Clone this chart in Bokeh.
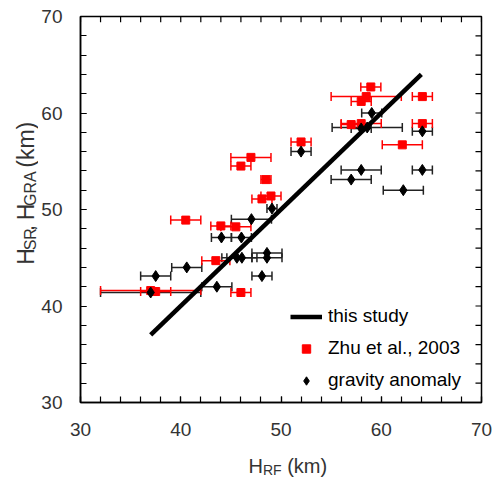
import math
from bokeh.plotting import figure
from bokeh.layouts import row, column
from bokeh.models import (Whisker, TeeHead, ColumnDataSource, Legend, LegendItem,
                          FixedTicker, Range1d)
from bokeh.core.properties import value
from bokeh.embed import file_html
from bokeh.resources import INLINE

# ---- data ----
# Zhu et al., 2003 (red squares): H_RF, H_SR, H_RF error
zhu_x = [58.96, 58.5, 58.0, 64.1, 64.1, 57.0, 58.0, 62.1, 52.0, 47.0, 46.0, 48.5, 48.1, 49.0,
         40.5, 44.0, 45.5, 43.5, 46.0, 37.0, 37.5]
zhu_y = [62.7, 61.7, 61.2, 61.7, 58.9, 58.8, 58.9, 56.7, 57.0, 55.4, 54.5, 53.1, 51.1, 51.4,
         48.9, 48.3, 48.2, 44.7, 41.4, 41.6, 41.5]
zhu_err = [1.0, 3.5, 1.0, 1.0, 1.0, 1.0, 2.0, 2.0, 1.0, 2.0, 1.0, 0.5, 1.0, 1.0,
           1.5, 1.0, 1.5, 1.4, 1.0, 5.0, 1.5]

# gravity anomaly (black diamonds): H_RF, H_GRA, H_RF error
gra_x = [59.05, 58.6, 58.0, 64.1, 52.0, 58.0, 64.1, 57.0, 62.2, 49.1, 47.05, 44.06, 46.05,
         48.6, 48.6, 45.6, 46.1, 48.1, 40.6, 37.5, 43.6, 37.0]
gra_y = [60.0, 58.5, 58.4, 58.1, 56.0, 54.1, 54.1, 53.1, 52.0, 50.1, 49.0, 47.1, 47.1,
         45.5, 45.0, 45.0, 45.0, 43.1, 44.0, 43.1, 42.0, 41.4]
gra_err = [1.0, 3.5, 1.0, 1.0, 1.0, 2.0, 1.0, 2.0, 2.0, 0.5, 2.0, 1.0, 1.0,
           1.5, 1.5, 1.5, 1.5, 1.0, 1.5, 1.5, 1.5, 5.0]

# this study: fitted line
fit_x = [37.0, 64.0]
fit_y = [37.0, 64.0]

x_ticks = [30, 40, 50, 60, 70]
y_ticks = [30, 40, 50, 60, 70]
minor_ticks = list(range(30, 71, 2))

FONT = "Liberation Sans"
TXT = "#333333"
RED = "#ff0000"
BLK = "#000000"

W, H = 493, 477
WL = 38          # width of the strip holding the y title
HM = 448         # height of the main figure
HX = H - HM      # height of the strip holding the x title

p = figure(width=W - WL, height=HM, output_backend="svg", toolbar_location=None,
           x_range=Range1d(30, 70), y_range=Range1d(30, 70),
           min_border_left=78 - WL, min_border_right=12, min_border_top=16,
           min_border_bottom=HM - 402)
p.grid.visible = False
p.outline_line_color = BLK
p.outline_line_width = 1.5
p.background_fill_color = "white"
p.border_fill_color = "white"

for ax, tk in ((p.xaxis[0], x_ticks), (p.yaxis[0], y_ticks)):
    ax.ticker = FixedTicker(ticks=tk, minor_ticks=minor_ticks)
    ax.major_tick_in = 6
    ax.major_tick_out = 0
    ax.minor_tick_in = 6
    ax.minor_tick_out = 0
    ax.axis_line_width = 1.5
    ax.major_tick_line_width = 1.2
    ax.minor_tick_line_width = 1.2
    ax.major_label_text_font = FONT
    ax.major_label_text_font_size = "19px"
    ax.major_label_text_color = TXT
p.xaxis[0].major_label_standoff = 20
p.yaxis[0].major_label_standoff = 18

# inward ticks on top and right frame edges (at the tick positions)
tick_len = 0.6
p.segment(x0=minor_ticks, y0=[70] * len(minor_ticks), x1=minor_ticks,
          y1=[70 - tick_len] * len(minor_ticks), line_color=BLK, line_width=1.2)
p.segment(x0=[70] * len(minor_ticks), y0=minor_ticks, x1=[70 - tick_len] * len(minor_ticks),
          y1=minor_ticks, line_color=BLK, line_width=1.2)

# error bars
src_g = ColumnDataSource(dict(x=gra_x, y=gra_y,
                              lo=[a - e for a, e in zip(gra_x, gra_err)],
                              hi=[a + e for a, e in zip(gra_x, gra_err)]))
src_z = ColumnDataSource(dict(x=zhu_x, y=zhu_y,
                              lo=[a - e for a, e in zip(zhu_x, zhu_err)],
                              hi=[a + e for a, e in zip(zhu_x, zhu_err)]))

wg = Whisker(source=src_g, base="y", lower="lo", upper="hi", dimension="width",
             line_color="#222222", line_width=1.5,
             lower_head=TeeHead(size=9, line_color="#222222", line_width=1.5),
             upper_head=TeeHead(size=9, line_color="#222222", line_width=1.5))
wz = Whisker(source=src_z, base="y", lower="lo", upper="hi", dimension="width",
             line_color=RED, line_width=1.5,
             lower_head=TeeHead(size=9, line_color=RED, line_width=1.5),
             upper_head=TeeHead(size=9, line_color=RED, line_width=1.5))
p.add_layout(wg)
p.add_layout(wz)

r_line = p.line(fit_x, fit_y, line_color=BLK, line_width=4.5)
r_zhu = p.scatter("x", "y", source=src_z, marker="square", size=8,
                  fill_color=RED, line_color=RED)
r_gra = p.scatter("x", "y", source=src_g, marker="diamond", size=11,
                  fill_color=BLK, line_color=BLK)

legend = Legend(items=[LegendItem(label="this study", renderers=[r_line]),
                       LegendItem(label="Zhu et al., 2003", renderers=[r_zhu]),
                       LegendItem(label="gravity anomaly", renderers=[r_gra])],
                location=(210, 11), border_line_color=None, background_fill_alpha=0,
                padding=0, margin=0, spacing=10, glyph_width=32, glyph_height=21,
                label_height=21, label_standoff=6,
                label_text_font=FONT, label_text_font_size="19px", label_text_color=BLK)
p.add_layout(legend)


def strip(w, h):
    f = figure(width=w, height=h, output_backend="svg", toolbar_location=None,
               x_range=Range1d(0, w), y_range=Range1d(0, h),
               x_axis_type=None, y_axis_type=None, min_border=0)
    f.outline_line_color = None
    f.grid.visible = False
    f.background_fill_color = "white"
    f.border_fill_color = "white"
    return f


# ---- y title strip: H_SR, H_GRA (km) reading upwards (y measured from the bottom) ----
fy = strip(WL, HM)
ybig, ysmall = "23px", "16px"
bx, sx = 25, 29.5
y0 = HM - 288
fy.text(x=[bx, bx, bx, bx], y=[y0, y0 + 38.8, y0 + 51.6, y0 + 112.5],
        text=["H", ",", "H", "(km)"], angle=math.pi / 2,
        text_font=value(FONT), text_font_size=ybig, text_color=TXT,
        text_baseline="alphabetic", text_align="left")
fy.text(x=[sx, sx], y=[y0 + 16.6, y0 + 68.2], text=["SR", "GRA"], angle=math.pi / 2,
        text_font=value(FONT), text_font_size=ysmall, text_color=TXT,
        text_baseline="alphabetic", text_align="left")

# ---- x title strip: H_RF (km) (y measured from the bottom) ----
fx = strip(W, HX)
big, small = "20px", "14px"
xb = 248
base = H - 465
fx.text(x=[xb, xb + 38.7], y=[base, base], text=["H", "(km)"],
        text_font=value(FONT), text_font_size=big, text_color=TXT,
        text_baseline="alphabetic", text_align="left")
fx.text(x=[xb + 14.4], y=[base - 4], text=["RF"],
        text_font=value(FONT), text_font_size=small, text_color=TXT,
        text_baseline="alphabetic", text_align="left")

layout = column(row(fy, p, spacing=0), fx, spacing=0)
open("out.html", "w").write(file_html(layout, INLINE))
